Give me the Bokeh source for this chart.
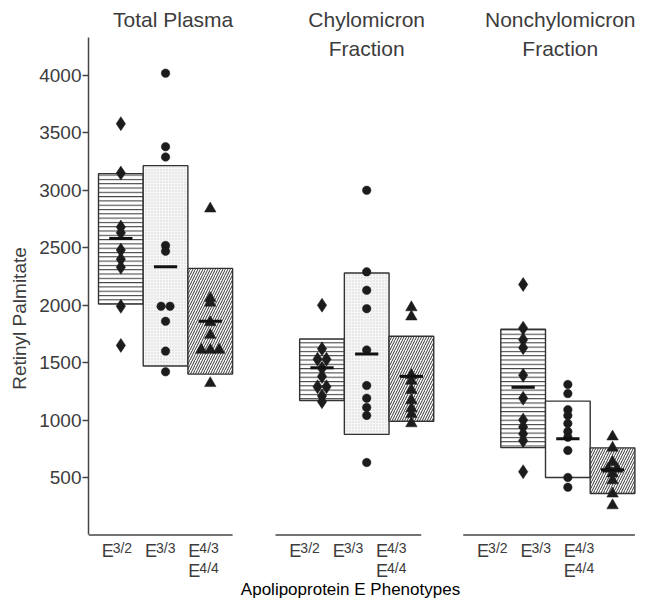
from bokeh.plotting import figure
from bokeh.models import Range1d, LinearAxis, FixedTicker, ColumnDataSource
from bokeh.core.properties import value
from bokeh.embed import file_html
from bokeh.resources import INLINE

# ---------------- data ----------------
panel_titles = ["Total Plasma", "Chylomicron\nFraction", "Nonchylomicron\nFraction"]
pheno_base = ["E", "E", "E"]
pheno_sup = ["3/2", "3/3", "4/3"]
pheno_extra_sup = "4/4"          # second line under the third group
y_ticks = [500, 1000, 1500, 2000, 2500, 3000, 3500, 4000]
y_label = "Retinyl Palmitate"
x_label = "Apolipoprotein E Phenotypes"

# box ranges (low / high) and mean per group, per panel
tp_low = [2010, 1470, 1400]
tp_high = [3145, 3215, 2320]
tp_mean = [2580, 2335, 1860]
ch_low = [1170, 875, 990]
ch_high = [1705, 2280, 1730]
ch_mean = [1455, 1575, 1380]
nc_low = [760, 500, 360]
nc_high = [1790, 1165, 758]
nc_mean = [1285, 837, 567]

# individual values
tp_e32 = [3580, 3150, 2680, 2630, 2480, 2400, 2330, 1990, 1650]
tp_e33 = [4020, 3380, 3290, 2520, 2470, 1990, 1990, 1860, 1600, 1420]
tp_e43 = [2840, 2060, 2020, 1850, 1740, 1610, 1610, 1610, 1320]
ch_e32 = [2000, 1620, 1530, 1530, 1450, 1380, 1290, 1290, 1210, 1160]
ch_e33 = [3000, 2290, 2130, 1970, 1610, 1300, 1190, 1110, 1040, 630]
ch_e43 = [1980, 1900, 1390, 1340, 1260, 1170, 1100, 1050, 970]
nc_e32 = [2180, 1800, 1700, 1630, 1390, 1190, 1000, 940, 880, 820, 550]
nc_e33 = [1310, 1230, 1090, 1040, 970, 900, 850, 735, 500, 415]
nc_e43 = [855, 758, 633, 575, 575, 534, 474, 358, 256]

lows = [tp_low, ch_low, nc_low]
highs = [tp_high, ch_high, nc_high]
means = [tp_mean, ch_mean, nc_mean]
points = [[tp_e32, tp_e33, tp_e43], [ch_e32, ch_e33, ch_e43], [nc_e32, nc_e33, nc_e43]]
stippled = [True, True, False]

# ---------------- styles / layout ----------------
FONT = "Liberation Sans"
GRAY_TXT = "#3c3c3c"
INK = "#1c1c1c"
PANEL_STEP = 4.5
PXU_X = 44.7                   # screen px per x unit
PXU_Y = 0.11486                # screen px per y data unit
ZERO_PX = 534.4                # screen y of value 0
LEFT_PX = 88                   # frame left edge
BOX0_PX = 98                   # left edge of first box
W, H = 636, 599
Y_TOP = 4330


def ypx(d):
    """screen-pixel distance below value 0 -> data units"""
    return -d / PXU_Y


markers = ["diamond", "circle", "triangle"]
msizes = [14, 8.5, 11.5]
hatches = ["-", ".", "/"]
hscales = [4.3, 3.0, 5.0]


def dodge(vals, tol=15, step=0.2):
    offs = []
    for i, v in enumerate(vals):
        same = [j for j, w in enumerate(vals) if abs(w - v) <= tol]
        k = same.index(i)
        offs.append((k - (len(same) - 1) / 2) * step)
    return offs


x0 = -(BOX0_PX - LEFT_PX) / PXU_X
x1 = x0 + (W - LEFT_PX) / PXU_X
y1 = ZERO_PX / PXU_Y
y0 = y1 - H / PXU_Y

p = figure(width=W, height=H,
           x_range=Range1d(x0, x1), y_range=Range1d(y0, y1),
           output_backend="svg", toolbar_location=None,
           x_axis_location=None, y_axis_location=None,
           min_border_left=LEFT_PX, min_border_right=0,
           min_border_top=0, min_border_bottom=0)
p.outline_line_color = None
p.grid.grid_line_color = None
p.background_fill_color = "white"
p.border_fill_color = "white"

# trailing no-break spaces push the centred label slightly downwards
yaxis = LinearAxis(bounds=(0, Y_TOP), ticker=FixedTicker(ticks=y_ticks),
                   axis_label=y_label + "\u00a0" * 7)
yaxis.axis_line_color = "#444444"
yaxis.axis_line_width = 1.5
yaxis.major_tick_line_color = "#444444"
yaxis.major_tick_line_width = 1.3
yaxis.major_tick_out = 6
yaxis.major_tick_in = 0
yaxis.minor_tick_line_color = None
yaxis.major_label_standoff = 1
yaxis.major_label_text_font = FONT
yaxis.major_label_text_font_size = "19px"
yaxis.major_label_text_color = GRAY_TXT
yaxis.axis_label_text_font = FONT
yaxis.axis_label_text_font_size = "19px"
yaxis.axis_label_text_font_style = "normal"
yaxis.axis_label_text_color = GRAY_TXT
yaxis.axis_label_standoff = 6
p.add_layout(yaxis, "left")

# boxes
bx = dict(left=[], right=[], top=[], bottom=[], fill=[], hatch=[], hscale=[], hcolor=[])
for pi in range(3):
    for g in range(3):
        c = pi * PANEL_STEP + g + 0.5
        bx["left"].append(c - 0.5)
        bx["right"].append(c + 0.5)
        bx["top"].append(highs[pi][g])
        bx["bottom"].append(lows[pi][g])
        if g == 1 and not stippled[pi]:
            bx["fill"].append("white"); bx["hatch"].append(" ")
        elif g == 1:
            bx["fill"].append("#f6f6f6"); bx["hatch"].append(".")
        else:
            bx["fill"].append("white"); bx["hatch"].append(hatches[g])
        bx["hscale"].append(hscales[g])
        bx["hcolor"].append("#d2d2d2" if g == 1 else "#333333")
p.quad(left="left", right="right", top="top", bottom="bottom",
       source=ColumnDataSource(bx), fill_color="fill", hatch_pattern="hatch",
       hatch_scale="hscale", hatch_color="hcolor", hatch_weight=1.0,
       line_color="#333333", line_width=1.4)

# points
for pi in range(3):
    for g in range(3):
        c = pi * PANEL_STEP + g + 0.5
        vals = points[pi][g]
        xs = [c + o for o in dodge(vals)]
        p.scatter(xs, vals, marker=markers[g], size=msizes[g],
                  fill_color=INK, line_color=INK, line_width=0.5)

# mean bars
for pi in range(3):
    for g in range(3):
        c = pi * PANEL_STEP + g + 0.5
        p.segment(x0=[c - 0.26], y0=[means[pi][g]], x1=[c + 0.26], y1=[means[pi][g]],
                  line_color="#111111", line_width=3)

# baselines under each panel
base_x0 = [x0, 3.96, 8.16]
base_x1 = [3.0, 7.22, 12.0]
p.segment(x0=base_x0, y0=[0, 0, 0], x1=base_x1, y1=[0, 0, 0],
          line_color="#444444", line_width=1.5)

# panel titles (one text per line)
tx, ty, tt = [], [], []
title_shift = [0.17, 0.0, -0.17]
for pi, t in enumerate(panel_titles):
    for li, line in enumerate(t.split("\n")):
        tx.append(pi * PANEL_STEP + 1.5 + title_shift[pi])
        ty.append(ypx(-(ZERO_PX - 19 - li * 29)))
        tt.append(line)
p.text(x=tx, y=ty, text=tt, text_font=value(FONT), text_font_size="21px",
       text_color=GRAY_TXT, text_align="center", text_baseline="middle")

# phenotype labels
lx, ly, lt, sx, sy, st = [], [], [], [], [], []
for pi in range(3):
    for g in range(3):
        x = pi * 4.2 + g * 0.97 + 0.07
        lx.append(x); ly.append(ypx(15.6)); lt.append(pheno_base[g])
        sx.append(x); sy.append(ypx(12.6)); st.append(pheno_sup[g])
        if g == 2:
            lx.append(x); ly.append(ypx(35.6)); lt.append(pheno_base[g])
            sx.append(x); sy.append(ypx(32.6)); st.append(pheno_extra_sup)
p.text(x=lx, y=ly, text=lt, text_font=value(FONT), text_font_size="18px",
       text_color=GRAY_TXT, text_align="left", text_baseline="middle")
p.text(x=sx, y=sy, text=st, text_font=value(FONT), text_font_size="14px",
       text_color=GRAY_TXT, text_align="left", text_baseline="middle", x_offset=11)

# x title
p.text(x=[(350 - BOX0_PX) / PXU_X], y=[ypx(55)], text=[x_label], text_font=value(FONT),
       text_font_size="17px", text_color="#000000", text_align="center",
       text_baseline="middle")

open("out.html", "w").write(file_html(p, INLINE))
